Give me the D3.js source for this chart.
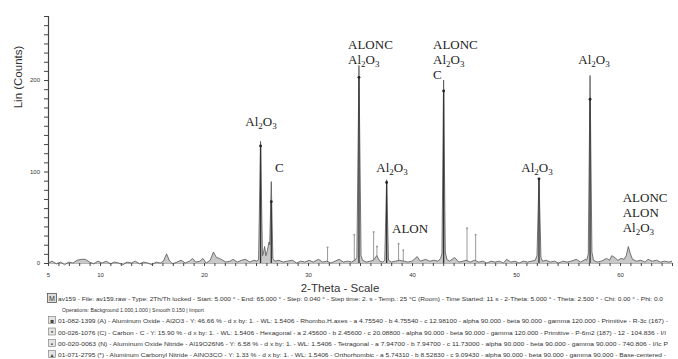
<!DOCTYPE html>
<html>
<head>
<meta charset="utf-8">
<script src="https://cdnjs.cloudflare.com/ajax/libs/d3/7.8.5/d3.min.js"></script>
<style>
body { margin: 0; background: #fff; }
svg { display: block; }
</style>
</head>
<body>
<script>
// measured XRD profile: [2-theta, counts]
var profile = [
  [5.0,0],[5.4,2],[5.8,-1],[6.2,1],[6.6,-2],[7.0,1],[7.4,0],[7.8,3],[8.2,4],[8.6,4],
  [9.0,1],[9.4,-1],[9.8,2],[10.2,0],[10.6,2],[11.0,-1],[11.4,1],[11.8,0],[12.2,-2],[12.6,1],
  [13.0,0],[13.4,2],[13.8,-1],[14.2,1],[14.6,0],[15.0,-2],[15.4,1],[15.8,0],[16.1,2],[16.4,10],
  [16.7,2],[17.0,-1],[17.4,1],[17.8,3],[18.2,0],[18.6,2],[18.9,5],[19.2,1],[19.6,2],[19.9,5],
  [20.2,0],[20.6,3],[20.9,12],[21.2,6],[21.5,5],[21.8,3],[22.1,1],[22.5,2],[22.8,4],[23.2,1],
  [23.6,3],[24.0,4],[24.4,1],[24.8,3],[25.1,2],[25.25,4],[25.44,133],[25.62,8],[25.7,10],[25.83,18],
  [25.95,8],[26.1,14],[26.25,23],[26.32,20],[26.47,89],[26.62,5],[26.8,2],[27.2,3],[27.6,1],[28.0,2],
  [28.5,3],[28.9,0],[29.3,2],[29.7,1],[30.1,3],[30.5,1],[31.0,4],[31.4,1],[31.8,2],[32.2,0],
  [32.6,2],[33.0,4],[33.4,1],[33.8,2],[34.2,1],[34.5,3],[34.7,6],[34.9,216],[35.1,8],[35.25,3],
  [35.6,1],[36.0,2],[36.3,3],[36.6,8],[36.9,2],[37.2,1],[37.38,3],[37.56,91],[37.74,3],[38.0,1],
  [38.4,2],[38.8,3],[39.2,2],[39.6,1],[40.0,2],[40.5,7],[40.8,2],[41.3,4],[41.7,2],[42.1,3],
  [42.5,2],[42.75,5],[42.88,10],[43.04,200],[43.2,12],[43.35,4],[43.6,2],[44.1,6],[44.5,1],[44.9,2],
  [45.2,3],[45.6,1],[46.0,3],[46.4,1],[46.8,2],[47.2,0],[47.6,2],[48.0,1],[48.4,2],[48.8,0],
  [49.1,4],[49.5,1],[49.9,2],[50.3,0],[50.7,2],[51.1,1],[51.5,2],[51.85,3],[52.02,8],[52.21,93],
  [52.4,6],[52.55,2],[52.9,3],[53.3,1],[53.7,2],[54.1,0],[54.5,2],[54.9,1],[55.3,2],[55.8,4],
  [56.2,1],[56.7,4],[56.8,3],[56.95,10],[57.12,205],[57.3,12],[57.45,3],[57.8,1],[58.2,2],[58.7,5],
  [59.0,3],[59.2,8],[59.5,6],[59.8,3],[60.1,5],[60.4,4],[60.6,8],[60.8,18],[61.0,10],[61.2,4],
  [61.6,2],[62.0,3],[62.4,1],[62.7,4],[63.1,2],[63.5,3],[63.9,1],[64.3,2],[64.7,1],[65.0,2]
];

// reference pattern sticks
var darkSticks = [[25.44,128],[26.47,67],[34.9,203],[37.56,88],[43.04,188],[52.21,92],[57.12,179]];
var lightSticks = [[31.88,17],[34.45,31],[36.31,34],[36.63,18],[38.71,21],[39.16,14],[45.29,38],[46.12,31]];

// peak labels: anchor 2-theta, counts of first baseline, lines
var labelX = [25.48, 26.83, 33.85, 38.08, 38.08, 42.02, 52.02, 57.5, 60.26];
var labelY = [150, 100, 234, 99, 33, 234, 99, 217, 67];
var labelAnchor = ["middle","start","start","middle","start","start","middle","middle","start"];
var labelText = [
  ["Al2O3"], ["C"], ["ALONC","Al2O3"], ["Al2O3"], ["ALON"],
  ["ALONC","Al2O3","C"], ["Al2O3"], ["Al2O3"], ["ALONC","ALON","Al2O3"]
];

var xTickLabels = [5,10,20,30,40,50,60];
var yTickLabels = [0,100,200];

var infoLines = [
  "av159 - File: av159.raw - Type: 2Th/Th locked - Start: 5.000 \u00b0 - End: 65.000 \u00b0 - Step: 0.040 \u00b0 - Step time: 2. s - Temp.: 25 \u00b0C (Room) - Time Started: 11 s - 2-Theta: 5.000 \u00b0 - Theta: 2.500 \u00b0 - Chi: 0.00 \u00b0 - Phi: 0.0",
  "Operations: Background 1.000,1.000 | Smooth 0.150 | Import",
  "01-082-1399 (A) - Aluminum Oxide - Al2O3 - Y: 46.66 % - d x by: 1. - WL: 1.5406 - Rhombo.H.axes - a 4.75540 - b 4.75540 - c 12.98100 - alpha 90.000 - beta 90.000 - gamma 120.000 - Primitive - R-3c (167) -",
  "00-026-1076 (C) - Carbon - C - Y: 15.90 % - d x by: 1. - WL: 1.5406 - Hexagonal - a 2.45600 - b 2.45600 - c 20.08800 - alpha 90.000 - beta 90.000 - gamma 120.000 - Primitive - P-6m2 (187) - 12 - 104.836 - I/I",
  "00-020-0063 (N) - Aluminum Oxide Nitride - Al19O26N6 - Y: 6.58 % - d x by: 1. - WL: 1.5406 - Tetragonal - a 7.94700 - b 7.94700 - c 11.73000 - alpha 90.000 - beta 90.000 - gamma 90.000 - 740.806 - I/Ic P",
  "01-071-2795 (*) - Aluminum Carbonyl Nitride - AlNO3CO - Y: 1.33 % - d x by: 1. - WL: 1.5406 - Orthorhombic - a 5.74310 - b 8.52830 - c 9.09430 - alpha 90.000 - beta 90.000 - gamma 90.000 - Base-centered -"
];

var width = 678, height = 359;

var svg = d3.select("body").append("svg")
    .attr("width", width)
    .attr("height", height);

var x = d3.scaleLinear().domain([5, 65]).range([48, 672]);
var y = d3.scaleLinear().domain([0, 270]).range([263, 16]);

// y axis
var yAxis = d3.axisLeft(y)
    .tickValues(d3.range(0, 271, 10))
    .tickSize(4)
    .tickFormat(function(d) { return yTickLabels.indexOf(d) >= 0 ? d : ""; });
var gy = svg.append("g")
    .attr("transform", "translate(48,0)")
    .call(yAxis);
gy.select(".domain").attr("stroke", "#444").attr("stroke-width", 1.2);
gy.selectAll(".tick line").attr("stroke", "#444");
gy.selectAll(".tick text")
    .attr("x", -8)
    .attr("font-family", "Liberation Sans, Arial, sans-serif")
    .attr("font-size", 6)
    .attr("fill", "#333");

// x axis
var xAxis = d3.axisBottom(x)
    .tickValues(d3.range(5, 66, 1))
    .tickSize(3)
    .tickFormat(function(d) { return xTickLabels.indexOf(d) >= 0 ? d : ""; });
var gx = svg.append("g")
    .attr("transform", "translate(0," + y(0) + ")")
    .call(xAxis);
gx.select(".domain").attr("stroke", "#666").attr("stroke-width", 0.5);
gx.selectAll(".tick line").attr("stroke", "#444");
gx.selectAll(".tick text")
    .attr("y", 10)
    .attr("font-family", "Liberation Sans, Arial, sans-serif")
    .attr("font-size", 6)
    .attr("fill", "#333");

// light reference sticks
svg.selectAll(".lstick").data(lightSticks).enter().append("line")
    .attr("class", "lstick")
    .attr("x1", function(d) { return x(d[0]); })
    .attr("x2", function(d) { return x(d[0]); })
    .attr("y1", y(0))
    .attr("y2", function(d) { return y(d[1]); })
    .attr("stroke", "#999")
    .attr("stroke-width", 1);
svg.selectAll(".ldot").data(lightSticks).enter().append("circle")
    .attr("class", "ldot")
    .attr("cx", function(d) { return x(d[0]); })
    .attr("cy", function(d) { return y(d[1]); })
    .attr("r", 1)
    .attr("fill", "#999");

// measured profile
var area = d3.area()
    .x(function(d) { return x(d[0]); })
    .y0(y(0))
    .y1(function(d) { return y(Math.max(d[1], 0)); });
svg.append("path")
    .datum(profile)
    .attr("d", area)
    .attr("fill", "#c8c8c8");

var line = d3.line()
    .x(function(d) { return x(d[0]); })
    .y(function(d) { return y(d[1]); });
svg.append("path")
    .datum(profile)
    .attr("d", line)
    .attr("fill", "none")
    .attr("stroke", "#555")
    .attr("stroke-width", 0.8);

// dark reference sticks
svg.selectAll(".dstick").data(darkSticks).enter().append("line")
    .attr("class", "dstick")
    .attr("x1", function(d) { return x(d[0]); })
    .attr("x2", function(d) { return x(d[0]); })
    .attr("y1", y(0))
    .attr("y2", function(d) { return y(d[1]); })
    .attr("stroke", "#333")
    .attr("stroke-width", 1.3);
svg.selectAll(".ddot").data(darkSticks).enter().append("circle")
    .attr("class", "ddot")
    .attr("cx", function(d) { return x(d[0]); })
    .attr("cy", function(d) { return y(d[1]); })
    .attr("r", 1.4)
    .attr("fill", "#222");

// text with digits as subscripts
function chem(sel, s) {
    var parts = s.match(/\d+|\D+/g);
    for (var k = 0; k < parts.length; k++) {
        var isNum = /\d/.test(parts[k]);
        sel.append("tspan")
            .text(parts[k])
            .attr("font-size", isNum ? 9 : 13)
            .attr("dy", isNum ? 3 : (k > 0 ? -3 : 0));
    }
}

for (var i = 0; i < labelText.length; i++) {
    for (var j = 0; j < labelText[i].length; j++) {
        var t = svg.append("text")
            .attr("x", x(labelX[i]))
            .attr("y", y(labelY[i]) + j * 15)
            .attr("text-anchor", labelAnchor[i])
            .attr("font-family", "Liberation Serif, Times New Roman, serif")
            .attr("font-size", 13)
            .attr("fill", "#222");
        chem(t, labelText[i][j]);
    }
}

// axis titles
svg.append("text")
    .text("Lin (Counts)")
    .attr("transform", "translate(22,77) rotate(-90)")
    .attr("text-anchor", "middle")
    .attr("font-family", "Liberation Sans, Arial, sans-serif")
    .attr("font-size", 11.5)
    .attr("fill", "#333");

svg.append("text")
    .text("2-Theta - Scale")
    .attr("x", 340)
    .attr("y", 291.5)
    .attr("text-anchor", "middle")
    .attr("font-family", "Liberation Sans, Arial, sans-serif")
    .attr("font-size", 11.5)
    .attr("fill", "#333");

// info block
var infoY = [301, 311.5, 323, 334.5, 346, 357];
var infoLeft = [58, 62, 58, 58, 58, 58];
var infoRight = [663, 204, 668, 666, 668, 666];
for (var i = 0; i < infoLines.length; i++) {
    svg.append("text")
        .text(infoLines[i])
        .attr("x", infoLeft[i])
        .attr("y", infoY[i])
        .attr("textLength", infoRight[i] - infoLeft[i])
        .attr("lengthAdjust", "spacingAndGlyphs")
        .attr("font-family", "Liberation Sans, Arial, sans-serif")
        .attr("font-size", 6.2)
        .attr("fill", "#333");
}

// small legend boxes
svg.append("rect")
    .attr("x", 47.5).attr("y", 293.5)
    .attr("width", 9).attr("height", 9)
    .attr("fill", "#ddd").attr("stroke", "#555").attr("stroke-width", 0.8);
svg.append("text")
    .text("M")
    .attr("x", 52).attr("y", 301)
    .attr("text-anchor", "middle")
    .attr("font-family", "Liberation Sans, Arial, sans-serif")
    .attr("font-size", 7)
    .attr("fill", "#333");
var boxMarks = ["\u25aa", "\u2022", "\u2219", "\u25b4"];
for (var i = 0; i < 4; i++) {
    svg.append("rect")
        .attr("x", 48.5).attr("y", infoY[i + 2] - 6.5)
        .attr("width", 7).attr("height", 7)
        .attr("fill", "#e4e4e4").attr("stroke", "#777").attr("stroke-width", 0.6);
    svg.append("text")
        .text(boxMarks[i])
        .attr("x", 52).attr("y", infoY[i + 2] - 0.5)
        .attr("text-anchor", "middle")
        .attr("font-family", "DejaVu Sans, sans-serif")
        .attr("font-size", 6)
        .attr("fill", "#444");
}
</script>
</body>
</html>
